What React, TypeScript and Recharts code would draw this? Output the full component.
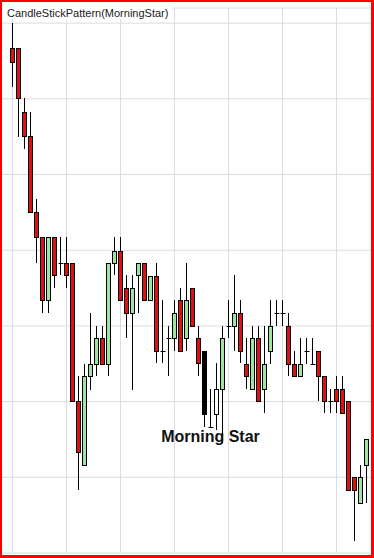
import React from 'react';
import { ComposedChart, Bar, XAxis, YAxis, CartesianGrid, ReferenceDot } from 'recharts';

// OHLC values, one entry per session
const opens = [
  166.7, 166.7, 158.3, 155.1, 145.0, 141.7, 133.4, 141.7, 138.3, 138.3,
  138.3, 120.1, 111.6, 123.4, 125.0, 128.4, 125.0, 138.3, 139.9, 135.0,
  131.7, 136.7, 138.3, 133.4, 136.6, 126.7, 128.4, 128.4, 133.4, 128.4,
  135.0, 128.4, 126.7, 116.6, 118.4, 121.7, 130.0, 130.0, 131.7, 125.0,
  121.7, 128.4, 121.7, 126.7, 131.7, 131.7, 130.0, 125.0, 123.4, 126.7,
  125.0, 126.7, 123.4, 120.1, 121.7, 121.7, 120.1, 110.0, 106.6, 111.6,
];
const highs = [
  170.0, 166.7, 160.1, 158.3, 146.8, 141.7, 141.7, 141.7, 141.7, 141.7,
  138.3, 123.4, 125.0, 131.7, 130.0, 130.0, 138.3, 141.7, 141.7, 136.7,
  136.7, 138.3, 138.3, 136.6, 138.3, 133.4, 130.0, 133.4, 135.0, 138.3,
  135.0, 130.0, 126.7, 121.7, 125.1, 130.0, 133.4, 136.7, 133.4, 128.4,
  130.0, 130.0, 130.0, 133.4, 133.4, 133.4, 131.7, 126.7, 128.4, 128.4,
  128.4, 126.7, 123.4, 121.7, 123.4, 123.4, 120.1, 110.0, 111.6, 115.1,
];
const lows = [
  161.6, 155.0, 153.4, 145.0, 138.3, 131.7, 131.7, 135.0, 136.7, 135.0,
  120.1, 108.3, 111.6, 121.5, 123.4, 125.0, 123.4, 136.7, 133.4, 128.4,
  121.5, 131.7, 133.4, 133.4, 125.1, 125.1, 123.4, 126.7, 126.7, 126.7,
  130.0, 123.4, 116.6, 116.6, 116.2, 114.5, 128.4, 126.7, 125.1, 121.7,
  121.7, 120.1, 118.5, 125.0, 130.0, 130.0, 123.4, 123.4, 123.4, 125.0,
  125.0, 120.1, 118.5, 118.5, 118.5, 118.5, 108.3, 101.6, 106.6, 106.6,
];
const closes = [
  164.9, 160.1, 155.1, 145.0, 141.7, 133.4, 141.7, 136.7, 138.3, 136.7,
  120.1, 113.3, 123.4, 125.0, 128.4, 125.0, 138.3, 139.9, 133.4, 131.7,
  135.0, 138.3, 133.4, 136.6, 126.7, 126.7, 128.4, 131.7, 126.7, 133.4,
  130.0, 125.1, 118.4, 116.6, 121.7, 128.4, 130.0, 131.7, 126.7, 123.4,
  128.4, 120.1, 125.0, 130.0, 131.7, 131.7, 125.0, 123.4, 125.0, 126.7,
  125.0, 123.4, 120.1, 120.1, 120.1, 118.5, 108.3, 108.3, 110.0, 115.1,
];

// the three sessions of the detected pattern
const patternStart = 32;
const patternEnd = 34;
const patternLabel = 'Morning Star';
const labelPrice = 115.4;

const xTicks = [0, 9, 18, 27, 36, 45, 54];
const yTicks = [100, 110, 120, 130, 140, 150, 160, 170];

const data = opens.map((open, i) => ({
  i,
  open,
  high: highs[i],
  low: lows[i],
  close: closes[i],
  range: [lows[i], highs[i]],
}));

const bodyFill = (i: number, open: number, close: number) => {
  if (i >= patternStart && i <= patternEnd) return close < open ? '#000000' : '#ffffff';
  return close > open ? '#9ee59e' : '#dd1111';
};

const Candle = (props: any) => {
  const { x, y, width, height, payload } = props;
  const { i, open, close, high, low } = payload;
  const ppu = height / (high - low);
  const yOf = (v: number) => y + (high - v) * ppu;
  const snap = (v: number) => Math.round(v) + 0.5;
  const cx = Math.floor(x + width / 2) + 0.5;
  const top = snap(yOf(Math.max(open, close)));
  const bottom = snap(yOf(Math.min(open, close)));

  return (
    <g>
      <line x1={cx} x2={cx} y1={Math.round(yOf(high))} y2={Math.round(yOf(low))} stroke="#000" strokeWidth={1} />
      {bottom - top < 1 ? (
        <line x1={cx - 2} x2={cx + 3} y1={top} y2={top} stroke="#000" strokeWidth={1} />
      ) : (
        <rect x={cx - 2} y={top} width={4} height={bottom - top} fill={bodyFill(i, open, close)} stroke="#000" strokeWidth={1} />
      )}
    </g>
  );
};

const App: React.FC = () => {
  return (
    <div
      style={{
        position: 'absolute',
        left: 0,
        top: 0,
        width: 374,
        height: 558,
        background: '#fff',
        fontFamily: '"Liberation Sans", Arial, sans-serif',
      }}
    >
      <ComposedChart width={374} height={558} data={data} margin={{ top: 8, right: 1.5, bottom: 5, left: 0.5 }}>
        <CartesianGrid stroke="#dcdcdc" />
        <XAxis dataKey="i" type="number" domain={[-2, 60]} ticks={xTicks} hide />
        <YAxis type="number" domain={[100, 172]} ticks={yTicks} allowDataOverflow hide />
        <Bar dataKey="range" barSize={5} shape={Candle} isAnimationActive={false} />
        <ReferenceDot
          x={patternStart + 1}
          y={labelPrice}
          r={0}
          stroke="none"
          label={{ value: patternLabel, position: 'center', fontSize: 16, fontWeight: 'bold', fill: '#111' }}
        />
      </ComposedChart>
      <div
        style={{
          position: 'absolute',
          left: 3,
          top: 2,
          padding: '5px 4px 0 4px',
          height: 12,
          lineHeight: '12px',
          fontSize: 11,
          color: '#1a1a1a',
          background: '#fff',
        }}
      >
        CandleStickPattern(MorningStar)
      </div>
      <div
        style={{
          position: 'absolute',
          inset: 0,
          borderStyle: 'solid',
          borderColor: '#ff0000',
          borderWidth: '2px 3px 3px 2px',
          pointerEvents: 'none',
        }}
      />
    </div>
  );
};

export default App;
